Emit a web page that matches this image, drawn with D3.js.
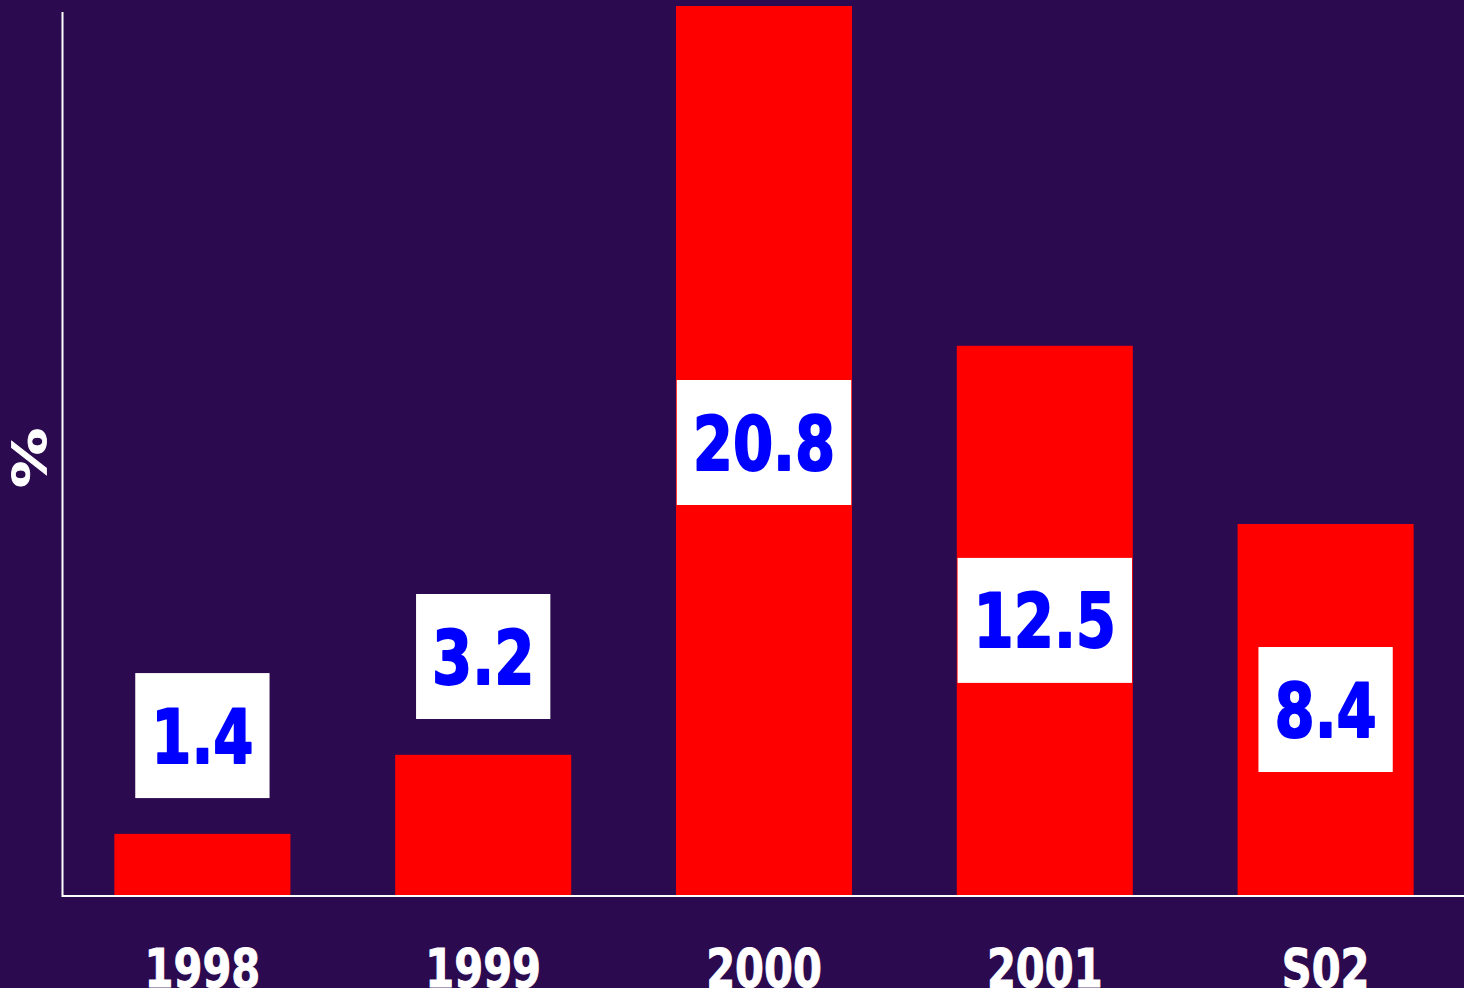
<!DOCTYPE html>
<html><head><meta charset="utf-8">
<script src="https://cdn.jsdelivr.net/npm/d3@7"></script>
<style>html,body{margin:0;padding:0;background:#2c0a4f;overflow:hidden}</style>
</head><body>
<svg id="c" width="1464" height="988"></svg>
<script>
const categories = ["1998", "1999", "2000", "2001", "S02"];
const values = [1.43, 3.28, 20.8, 12.85, 8.68];
const labels = ["1.4", "3.2", "20.8", "12.5", "8.4"];
const axisTitle = "%";

const W = 1464, H = 988;
const svg = d3.select("#c");
svg.append("rect").attr("width", W).attr("height", H).attr("fill", "#2c0a4f");

const x = d3.scaleBand().domain(categories).range([62, 1466]).paddingInner(0.373).paddingOuter(0.1865);
const y = d3.scaleLinear().domain([0, 20.8]).range([895, 6]);

const font = "'DejaVu Sans', Verdana, sans-serif";
const sx = 0.77;

// bars
svg.selectAll("rect.bar").data(categories).enter().append("rect")
  .attr("class", "bar")
  .attr("x", d => x(d)).attr("width", x.bandwidth())
  .attr("y", (d, i) => y(values[i])).attr("height", (d, i) => y(0) - y(values[i]))
  .attr("fill", "#ff0000");

// axes lines
svg.append("line").attr("x1", 62.5).attr("x2", 62.5).attr("y1", 12).attr("y2", 897)
  .attr("stroke", "#fff").attr("stroke-width", 2);
svg.append("line").attr("x1", 62).attr("x2", W).attr("y1", 896).attr("y2", 896)
  .attr("stroke", "#fff").attr("stroke-width", 2);

// x labels
const xl = svg.append("g");
categories.forEach(c => {
  xl.append("text")
    .attr("transform", `translate(${x(c) + x.bandwidth() / 2},987) scale(${sx},1)`)
    .attr("text-anchor", "middle").attr("font-family", font).attr("font-weight", "bold")
    .attr("font-size", 54).attr("fill", "#fff")
    .attr("stroke", "#fff").attr("stroke-width", 1).text(c);
});

// y title
svg.append("text")
  .attr("transform", `translate(29,458) scale(${sx},1) rotate(-90)`)
  .attr("text-anchor", "middle").attr("dy", "0.36em")
  .attr("font-family", font).attr("font-weight", "bold").attr("font-size", 60)
  .attr("fill", "#fff").attr("stroke", "#fff").attr("stroke-width", 1).text(axisTitle);

// value labels
categories.forEach((c, i) => {
  const v = values[i];
  const cy = v > 15 ? y(v / 2) - 8 : (v > 6 ? y(v / 2) : y(v + 2.3));
  const cx = x(c) + x.bandwidth() / 2;
  const g = svg.append("g");
  const box = g.append("rect").attr("fill", "#fff");
  const t = g.append("text")
    .attr("transform", `translate(${cx},${cy}) scale(${sx},1)`)
    .attr("text-anchor", "middle").attr("dy", "0.36em")
    .attr("font-family", font).attr("font-weight", "bold").attr("font-size", 75)
    .attr("fill", "#0000ff").attr("stroke", "#0000ff").attr("stroke-width", 2)
    .attr("stroke-linejoin", "round")
    .text(labels[i]);
  const bw = t.node().getBBox().width * sx + 32;
  box.attr("x", cx - bw / 2).attr("width", bw).attr("y", cy - 62.5).attr("height", 125);
});
</script>
</body></html>
